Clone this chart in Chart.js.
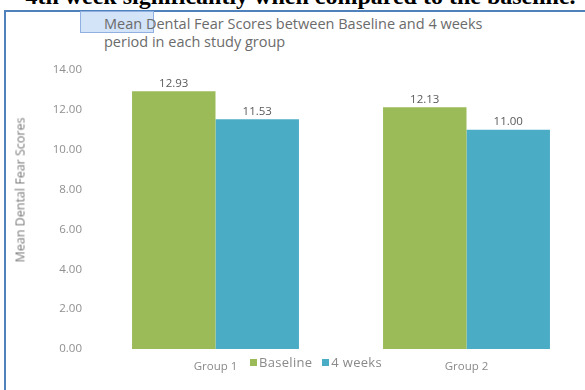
<!DOCTYPE html>
<html>
<head>
<meta charset="utf-8">
<script src="https://cdn.jsdelivr.net/npm/chart.js@4.4.1/dist/chart.umd.min.js"></script>
<style>
  html, body { margin: 0; padding: 0; background: #fff; overflow: hidden; }
  body { width: 585px; height: 390px; position: relative; }
  #header {
    position: absolute; left: 8px; width: 585px; top: -17px;
    text-align: center; font: bold 24px "Liberation Serif", serif; color: #000;
    white-space: nowrap;
  }
  #frame {
    position: absolute; left: 4px; top: 10px; width: 620px; height: 400px;
    border-left: 2px solid #4f81bd; border-top: 2px solid #4f81bd;
  }
  #wrap { position: absolute; left: 0; top: 0; width: 600px; height: 390px; }
  #title {
    position: absolute; left: 104px; top: 15px; color: #6b6b6b;
    font: 14.5px "Open Sans", sans-serif; line-height: 18px; white-space: nowrap;
  }
  #hl {
    position: absolute; left: 80px; top: 11px; width: 74px; height: 22px;
    background: #d3e3f8; border: 1px solid #8fb0e0; box-sizing: border-box;
  }
  #ytitle {
    position: absolute; left: 20px; top: 190px; color: #7a7a7a;
    font: 12.5px "Open Sans", sans-serif; white-space: nowrap;
    transform: translate(-50%, -50%) rotate(-90deg);
  }
  #legend {
    position: absolute; left: 250px; top: 353px; font: 13px "Open Sans", sans-serif;
    letter-spacing: 0.3px; color: #8a8a8a; white-space: nowrap;
  }
  #legend span.box { display: inline-block; width: 7px; height: 7px; margin-right: 2px; vertical-align: 1px; }
  #legend span.item { margin-right: 10px; }
</style>
</head>
<body>
<div id="header">4th week significantly when compared to the baseline.</div>
<div id="frame"></div>
<div id="hl"></div>
<div id="title">Mean Dental Fear Scores between Baseline and 4 weeks<br>period in each study group</div>
<div id="wrap"><canvas id="chart" width="600" height="390"></canvas></div>
<div id="ytitle">Mean Dental Fear Scores</div>
<div id="legend"></div>
<script>
const groups = ['Group 1', 'Group 2'];
const seriesNames = ['Baseline', '4 weeks'];
const baselineScores = [12.93, 12.13];
const weekFourScores = [11.53, 11.00];
const seriesColors = ['#9bbb59', '#4bacc6'];
const yTicks = [0, 2, 4, 6, 8, 10, 12, 14];

// value labels above each bar
const barLabels = {
    id: 'barLabels',
    afterDatasetsDraw(chart) {
        const ctx = chart.ctx;
        ctx.save();
        ctx.font = '11.5px "Open Sans", sans-serif';
        ctx.fillStyle = '#5a5a5a';
        ctx.textAlign = 'center';
        ctx.textBaseline = 'middle';
        chart.data.datasets.forEach((ds, i) => {
            chart.getDatasetMeta(i).data.forEach((bar, j) => {
                ctx.fillText(ds.data[j].toFixed(2), bar.x, bar.y - 8);
            });
        });
        ctx.restore();
    }
};

const chart = new Chart(document.getElementById('chart'), {
    type: 'bar',
    data: {
        labels: groups,
        datasets: [
            { label: seriesNames[0], data: baselineScores, backgroundColor: seriesColors[0] },
            { label: seriesNames[1], data: weekFourScores, backgroundColor: seriesColors[1] }
        ]
    },
    options: {
        responsive: false,
        animation: false,
        categoryPercentage: 0.665,
        barPercentage: 1.0,
        layout: { padding: { top: 70, right: 8, bottom: 0, left: 0 } },
        scales: {
            x: {
                grid: { display: false, drawTicks: false },
                border: { display: false },
                ticks: { padding: 11, color: '#8a8a8a', font: { family: 'Open Sans', size: 11.5 } },
                afterFit: s => { s.height = 41; }
            },
            y: {
                min: 0, max: 14,
                grid: { display: false, drawTicks: false },
                border: { display: false },
                afterBuildTicks: s => { s.ticks = yTicks.map(v => ({ value: v })); },
                ticks: {
                    padding: 8, color: '#8f8f8f', font: { family: 'Open Sans', size: 11.5 },
                    callback: v => v.toFixed(2)
                },
                afterFit: s => { s.width = 90; }
            }
        },
        plugins: {
            legend: { display: false },
            title: { display: false },
            tooltip: { enabled: false }
        }
    },
    plugins: [barLabels]
});

// legend below the plot, built from the chart's datasets
document.getElementById('legend').innerHTML = chart.data.datasets.map(ds =>
    '<span class="item"><span class="box" style="background:' + ds.backgroundColor + '"></span>' + ds.label + '</span>'
).join('');
</script>
</body>
</html>
